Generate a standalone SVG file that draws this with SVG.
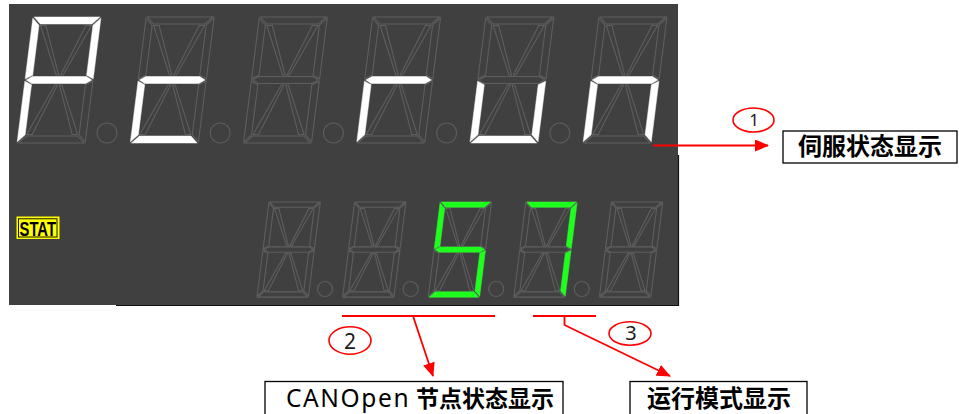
<svg xmlns="http://www.w3.org/2000/svg" width="959" height="414" viewBox="0 0 959 414">
<style>
.off{fill:none;stroke:#5e5e5e;stroke-width:1.1}
.w{fill:#ffffff;stroke:#ffffff;stroke-width:0.4}
.gr{fill:#1eff1e;stroke:#1eff1e;stroke-width:0.4}
.dp{fill:none;stroke:#5e5e5e;stroke-width:1.1}
.red{stroke:#ff0000;fill:none;stroke-width:1.8}
.lbl{fill:#ffffff;stroke:#000000;stroke-width:1.3}
.cj{font-family:"Noto Sans CJK SC","Noto Sans",sans-serif;font-weight:bold;fill:#000000}
.num{font-family:"Noto Sans","Liberation Sans",sans-serif;fill:#1a1a1a;text-anchor:middle}
.ov{fill:none;stroke:#ff0000;stroke-width:1.6}
</style>
<defs>
<path id="sa" vector-effect="non-scaling-stroke" d="M1.2,0H66.8L59.8,7H8.2Z"/>
<path id="sb" vector-effect="non-scaling-stroke" d="M68,1.2V61.8L61,58.3V8.2Z"/>
<path id="sc" vector-effect="non-scaling-stroke" d="M68,64.2V124.8L61,117.8V67.7Z"/>
<path id="sd" vector-effect="non-scaling-stroke" d="M1.2,126H66.8L59.8,119H8.2Z"/>
<path id="se" vector-effect="non-scaling-stroke" d="M0,64.2V124.8L7,117.8V67.7Z"/>
<path id="sf" vector-effect="non-scaling-stroke" d="M0,1.2V61.8L7,58.3V8.2Z"/>
<path id="sg" vector-effect="non-scaling-stroke" d="M1.2,63L7,59.5H61L66.8,63L61,66.5H7Z"/>
<path id="sh" vector-effect="non-scaling-stroke" d="M8.5,8.5H14L33,58H30.5Z"/>
<path id="sj" vector-effect="non-scaling-stroke" d="M59.5,8.5H54L35,58H37.5Z"/>
<path id="sk" vector-effect="non-scaling-stroke" d="M8.5,117.5H14L33,68H30.5Z"/>
<path id="sl" vector-effect="non-scaling-stroke" d="M59.5,117.5H54L35,68H37.5Z"/>
<g id="off" class="off">
<use href="#sa"/><use href="#sb"/><use href="#sc"/><use href="#sd"/><use href="#se"/><use href="#sf"/><use href="#sg"/>
<use href="#sh"/><use href="#sj"/><use href="#sk"/><use href="#sl"/>
</g>
<marker id="ah" markerUnits="userSpaceOnUse" markerWidth="14" markerHeight="12" refX="13" refY="6" orient="auto" viewBox="0 0 14 12">
<path d="M0,0L14,6L0,12Z" fill="#ff0000"/>
</marker>
</defs>

<g id="panel">
<rect x="9" y="4" width="669" height="301" fill="#404040"/>
<path d="M116,305.5H678.5V155" fill="none" stroke="#111111" stroke-width="1.2"/>
</g>

<g id="top-row">
<g id="t1" transform="translate(33,17) skewX(-7.2)"><use href="#off"/><use href="#sa" class="w"/><use href="#sb" class="w"/><use href="#sf" class="w"/><use href="#sg" class="w"/><use href="#se" class="w"/></g>
<g id="t2" transform="translate(146.2,17) skewX(-7.2)"><use href="#off"/><use href="#sg" class="w"/><use href="#se" class="w"/><use href="#sd" class="w"/></g>
<g id="t3" transform="translate(259.4,17) skewX(-7.2)"><use href="#off"/></g>
<g id="t4" transform="translate(372.6,17) skewX(-7.2)"><use href="#off"/><use href="#sg" class="w"/><use href="#se" class="w"/></g>
<g id="t5" transform="translate(485.8,17) skewX(-7.2)"><use href="#off"/><use href="#se" class="w"/><use href="#sd" class="w"/><use href="#sc" class="w"/></g>
<g id="t6" transform="translate(599,17) skewX(-7.2)"><use href="#off"/><use href="#sg" class="w"/><use href="#se" class="w"/><use href="#sc" class="w"/></g>
<g id="top-dots" class="dp">
<circle cx="107" cy="133" r="10"/><circle cx="220.2" cy="133" r="10"/><circle cx="333.4" cy="133" r="10"/><circle cx="446.6" cy="133" r="10"/><circle cx="559.8" cy="133" r="10"/>
</g>
</g>

<g id="bottom-row">
<g id="b1" transform="translate(269,202) skewX(-7.2) scale(0.755)"><use href="#off"/></g>
<g id="b2" transform="translate(354.6,202) skewX(-7.2) scale(0.755)"><use href="#off"/></g>
<g id="b3" transform="translate(440.2,202) skewX(-7.2) scale(0.755)"><use href="#off"/><use href="#sa" class="gr"/><use href="#sf" class="gr"/><use href="#sg" class="gr"/><use href="#sc" class="gr"/><use href="#sd" class="gr"/></g>
<g id="b4" transform="translate(525.8,202) skewX(-7.2) scale(0.755)"><use href="#off"/><use href="#sa" class="gr"/><use href="#sb" class="gr"/><use href="#sc" class="gr"/></g>
<g id="b5" transform="translate(611.4,202) skewX(-7.2) scale(0.755)"><use href="#off"/></g>
<g id="bottom-dots" class="dp">
<circle cx="325" cy="289" r="7.5"/><circle cx="410.6" cy="289" r="7.5"/><circle cx="496.2" cy="289" r="7.5"/><circle cx="581.8" cy="289" r="7.5"/>
</g>
</g>

<g id="stat">
<rect x="16.5" y="216.5" width="43" height="22.5" fill="#ffff00"/>
<rect x="18.5" y="218.8" width="38.5" height="18.2" fill="none" stroke="#000000" stroke-width="0.9"/>
<text x="19.5" y="236" font-family="Liberation Sans,sans-serif" font-weight="bold" font-size="20" textLength="36.5" lengthAdjust="spacingAndGlyphs" fill="#000000">STAT</text>
</g>

<g id="connectors">
<line x1="653" y1="145.5" x2="768" y2="145.5" class="red" marker-end="url(#ah)"/>
<line x1="342" y1="316" x2="495" y2="316" class="red"/>
<line x1="413" y1="316" x2="433" y2="376" class="red" stroke-width="1.2" marker-end="url(#ah)"/>
<line x1="533" y1="316" x2="596" y2="316" class="red"/>
<polyline points="564.5,316 564.5,325 670,376" class="red" stroke-width="1.6" marker-end="url(#ah)"/>
</g>

<g id="mark1"><ellipse cx="753.5" cy="120" rx="20.5" ry="12" class="ov"/><text x="754" y="126" font-size="17" class="num">1</text></g>
<g id="mark2"><ellipse cx="350" cy="340.5" rx="21" ry="13.7" class="ov"/><text x="350" y="349" font-size="21" class="num">2</text></g>
<g id="mark3"><ellipse cx="630" cy="333.5" rx="21" ry="11.7" class="ov"/><text x="631" y="339.5" font-size="20" class="num">3</text></g>

<g id="box-servo"><rect x="783" y="131" width="174" height="32" class="lbl"/><text x="870" y="155" text-anchor="middle" font-size="24" class="cj">伺服状态显示</text></g>
<g id="box-canopen"><rect x="265" y="381.5" width="298" height="40" class="lbl"/><text x="286" y="407" font-size="23" class="cj"><tspan font-family="Noto Sans,sans-serif" font-weight="normal" font-size="24.5" letter-spacing="1.6">CANOpen</tspan><tspan x="416">节点状态显示</tspan></text></g>
<g id="box-mode"><rect x="630" y="381.5" width="177" height="40" class="lbl"/><text x="719" y="407" text-anchor="middle" font-size="24" class="cj">运行模式显示</text></g>
</svg>
